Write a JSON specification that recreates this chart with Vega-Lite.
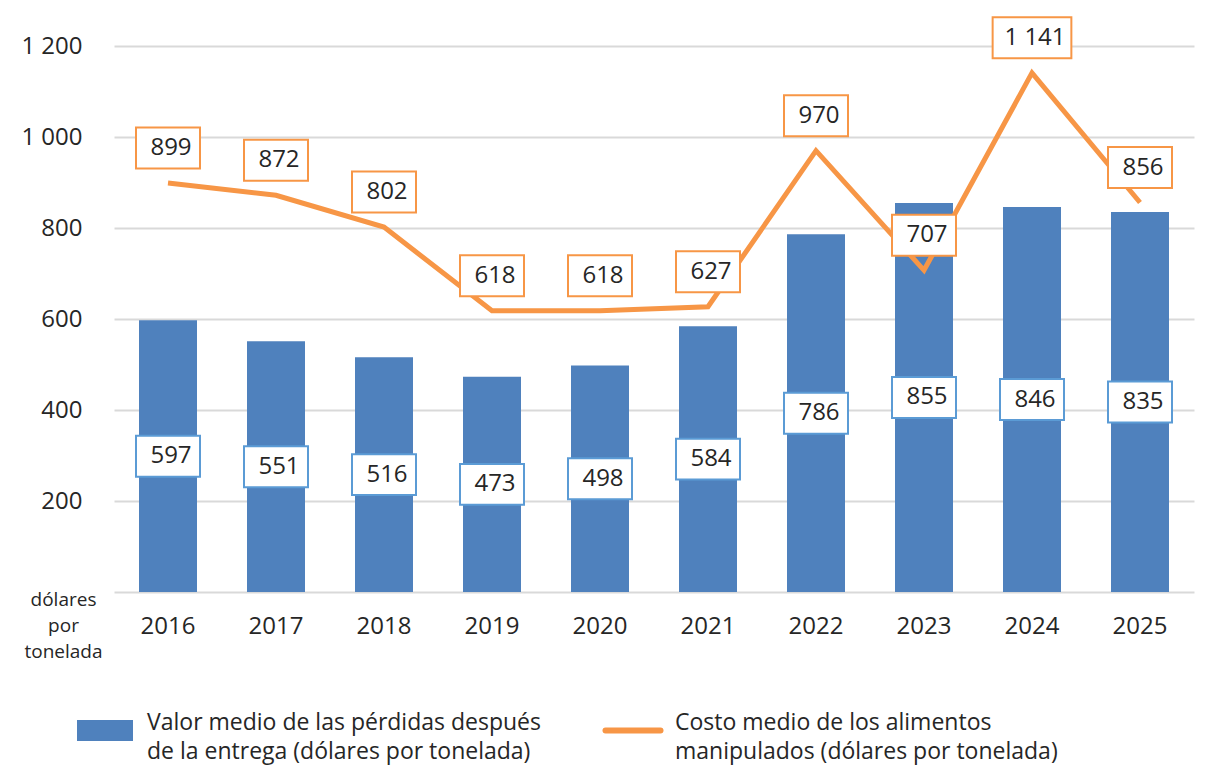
{
  "$schema": "https://vega.github.io/schema/vega-lite/v6.json",
  "width": 1080,
  "height": 546,
  "autosize": {"type": "none"},
  "padding": {"left": 114, "top": 46, "right": 12, "bottom": 173},
  "background": "white",
  "config": {
    "locale": {"number": {"decimal": ",", "thousands": " ", "grouping": [3], "currency": ["", " $"]}},
    "font": "Open Sans",
    "view": {"stroke": null},
    "axis": {"labelFont": "Open Sans", "labelColor": "#262626", "titleFont": "Open Sans", "titleColor": "#262626"}
  },
  "data": {
    "values": [
      {"year": "2016", "loss": 597, "cost": 899},
      {"year": "2017", "loss": 551, "cost": 872},
      {"year": "2018", "loss": 516, "cost": 802},
      {"year": "2019", "loss": 473, "cost": 618},
      {"year": "2020", "loss": 498, "cost": 618},
      {"year": "2021", "loss": 584, "cost": 627},
      {"year": "2022", "loss": 786, "cost": 970},
      {"year": "2023", "loss": 855, "cost": 707},
      {"year": "2024", "loss": 846, "cost": 1141},
      {"year": "2025", "loss": 835, "cost": 856}
    ]
  },
  "encoding": {
    "x": {
      "field": "year",
      "type": "nominal",
      "scale": {"paddingInner": 0.463, "paddingOuter": 0.2315},
      "axis": {
        "title": null,
        "labelAngle": 0,
        "ticks": false,
        "domain": true,
        "domainColor": "#d9d9d9",
        "domainWidth": 2,
        "labelFontSize": 24,
        "labelPadding": 22,
        "grid": false
      }
    }
  },
  "layer": [
    {
      "mark": {"type": "bar", "color": "#4F81BD"},
      "encoding": {
        "y": {
          "field": "loss",
          "type": "quantitative",
          "scale": {"domain": [0, 1200], "nice": false},
          "axis": {
            "values": [200, 400, 600, 800, 1000, 1200],
            "format": ",d",
            "domain": false,
            "ticks": false,
            "grid": true,
            "gridColor": "#d9d9d9",
            "gridWidth": 2,
            "labelFontSize": 24,
            "labelPadding": 32,
            "title": ["dólares", "por", "tonelada"],
            "titleAngle": 0,
            "titleFontSize": 19,
            "titleFontWeight": "normal",
            "titleAlign": "center",
            "titleBaseline": "top",
            "titleLineHeight": 26,
            "titleX": -51,
            "titleY": 544
          }
        },
        "color": {
          "datum": "Valor medio de las pérdidas después|de la entrega (dólares por tonelada)",
          "type": "nominal",
          "scale": {
            "domain": [
              "Valor medio de las pérdidas después|de la entrega (dólares por tonelada)",
              "Costo medio de los alimentos|manipulados (dólares por tonelada)"
            ],
            "range": ["#4F81BD", "#F79646"]
          },
          "legend": {
            "orient": "none",
            "legendX": -37,
            "legendY": 649,
            "direction": "horizontal",
            "columns": 2,
            "title": null,
            "padding": 0,
            "symbolSize": 2500,
            "labelFont": "Open Sans",
            "labelFontSize": 23,
            "labelColor": "#262626",
            "labelOffset": 14,
            "labelLimit": 800,
            "columnPadding": 52,
            "labelExpr": "split(datum.label, '|')",
            "encode": {
              "labels": {
                "update": {
                  "lineHeight": {"value": 29}
                }
              },
              "symbols": {
                "update": {
                  "shape": {"signal": "datum.index === 0 ? 'M-1,0L1,0L1,0.6L-1,0.6Z' : 'M-1.1,0.3L1.1,0.3'"},
                  "fill": {"signal": "datum.index === 0 ? '#4F81BD' : 'transparent'"},
                  "stroke": {"signal": "datum.index === 0 ? 'transparent' : '#F79646'"},
                  "strokeWidth": {"value": 6},
                  "strokeCap": {"value": "round"},
                  "opacity": {"value": 1}
                }
              }
            }
          }
        }
      }
    },
    {
      "mark": {"type": "line", "strokeWidth": 5},
      "encoding": {
        "y": {"field": "cost", "type": "quantitative", "scale": {"domain": [0, 1200], "nice": false}, "axis": null},
        "color": {"datum": "Costo medio de los alimentos|manipulados (dólares por tonelada)", "type": "nominal"}
      }
    },
    {
      "encoding": {
        "y": {"field": "loss", "type": "quantitative", "scale": {"domain": [0, 2400], "nice": false}, "axis": null}
      },
      "layer": [
        {
          "mark": {"type": "point", "filled": true, "fill": "white", "stroke": "#5B9BD5", "strokeWidth": 2, "opacity": 1, "size": 4096,
                   "shape": "M-1,-0.64L1,-0.64L1,0.64L-1,0.64Z"}
        },
        {
          "mark": {"type": "text", "fontSize": 24, "color": "#262626", "baseline": "middle", "dx": 3},
          "encoding": {"text": {"field": "loss", "type": "quantitative", "format": ",d"}}
        }
      ]
    },
    {
      "encoding": {
        "y": {"field": "cost", "type": "quantitative", "scale": {"domain": [0, 1200], "nice": false}, "axis": null},
        "yOffset": {"condition": {"test": "datum.cost >= 1000", "value": -25}, "value": -35}
      },
      "layer": [
        {
          "mark": {"type": "point", "filled": true, "fill": "white", "stroke": "#F79646", "strokeWidth": 2, "opacity": 1, "size": 4096},
          "encoding": {
            "shape": {
              "condition": {"test": "datum.cost >= 1000", "value": "M-1.23,-0.64L1.23,-0.64L1.23,0.64L-1.23,0.64Z"},
              "value": "M-1,-0.64L1,-0.64L1,0.64L-1,0.64Z"
            }
          }
        },
        {
          "mark": {"type": "text", "fontSize": 24, "color": "#262626", "baseline": "middle", "dx": 3},
          "encoding": {"text": {"field": "cost", "type": "quantitative", "format": ",d"}}
        }
      ]
    }
  ],
  "resolve": {"scale": {"y": "independent"}}
}
